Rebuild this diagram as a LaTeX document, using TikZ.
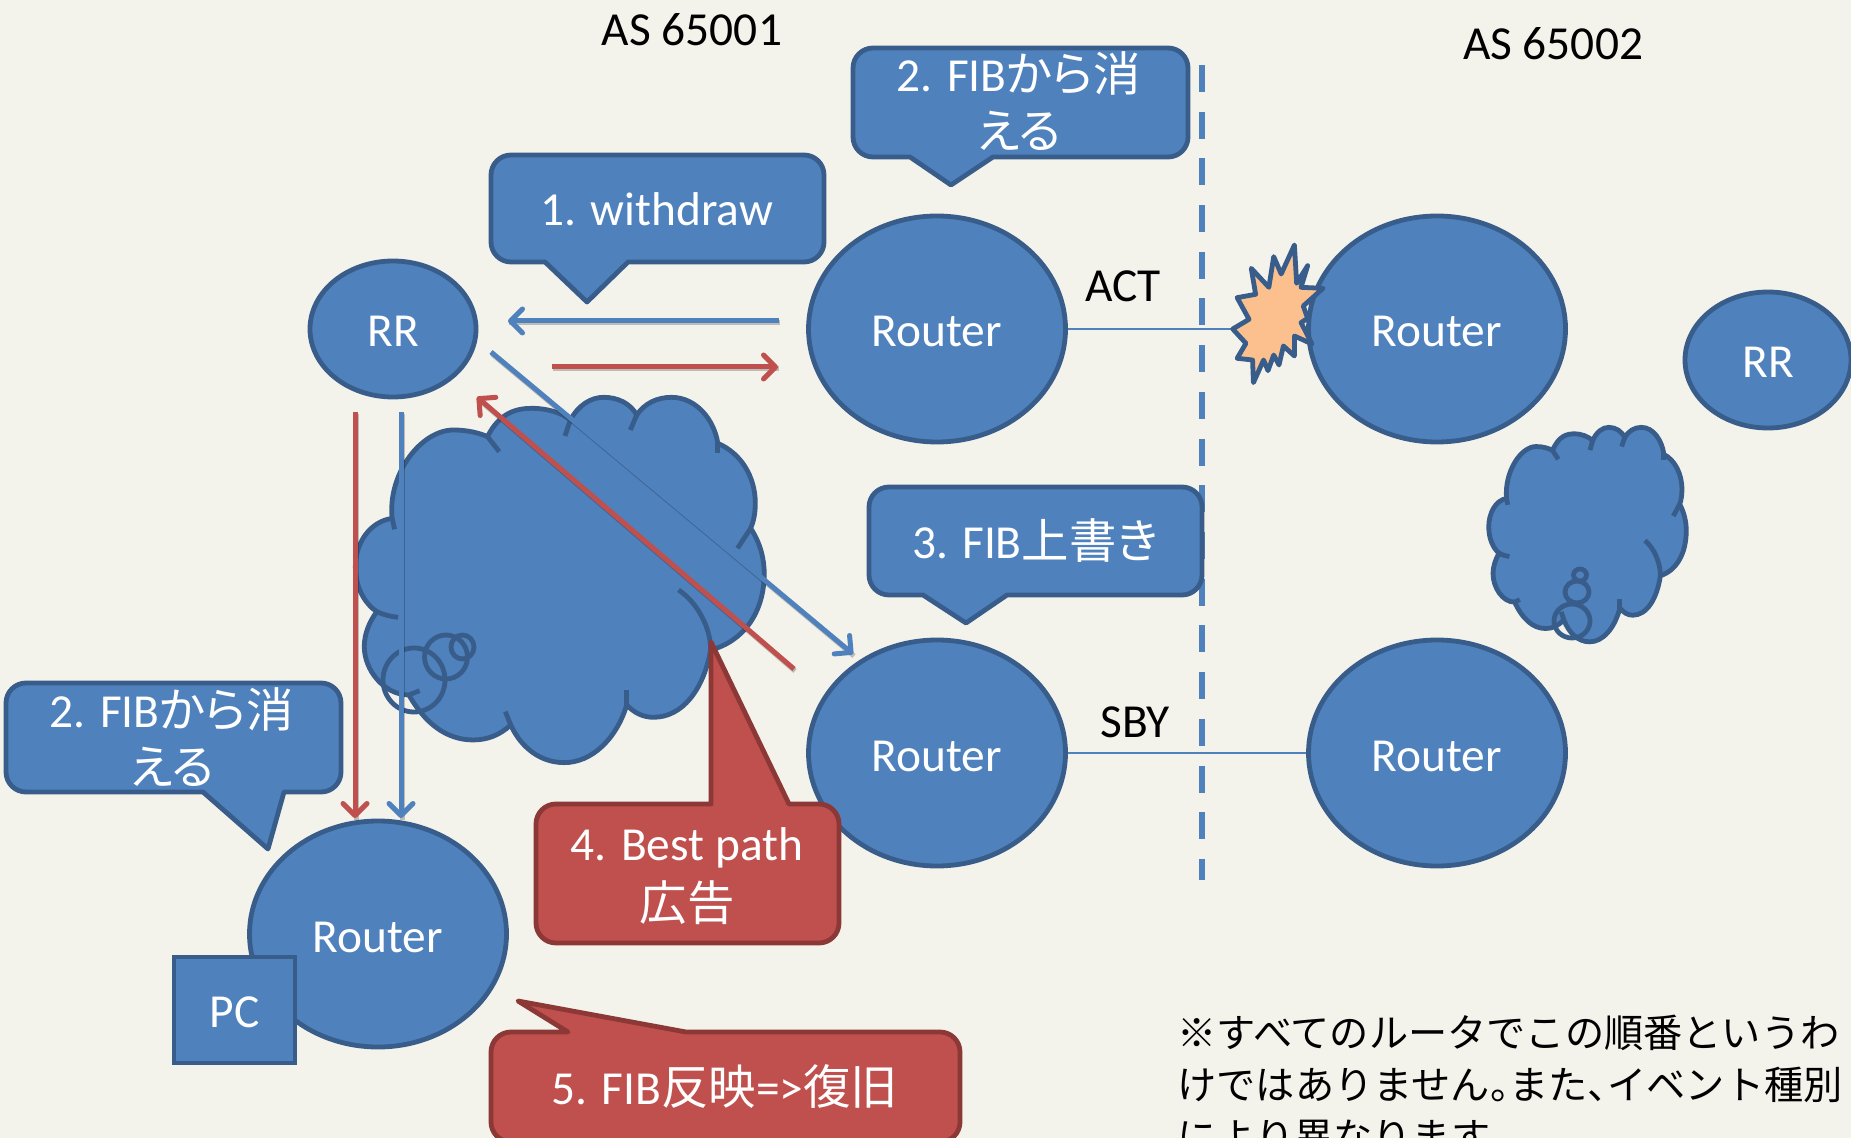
\documentclass[tikz,border=0pt]{standalone}
\usepackage{fontspec}
\setmainfont{Carlito}
\newfontfamily\cjk{Noto Sans CJK JP}
\newfontfamily\cjkp[RawFeature=+palt]{Noto Sans CJK JP}
\usetikzlibrary{arrows.meta,shapes.geometric}
\definecolor{paper}{HTML}{F3F2EB}
\definecolor{bluefill}{HTML}{4F81BD}
\definecolor{blueline}{HTML}{385D8A}
\definecolor{redfill}{HTML}{C0504D}
\definecolor{redline}{HTML}{8C3836}
\definecolor{burstfill}{HTML}{FBC08E}

\tikzset{cloudblob/.pic={
\draw[blob] (525,290) .. controls (560,215) and (610,205) .. (650,205)
  .. controls (695,205) and (735,220) .. (757,240)
  .. controls (780,195) and (815,172) .. (850,172)
  .. controls (890,172) and (925,190) .. (943,225)
  .. controls (965,190) and (1000,172) .. (1040,172)
  .. controls (1110,172) and (1160,240) .. (1170,310)
  .. controls (1235,340) and (1275,410) .. (1275,490)
  .. controls (1275,520) and (1270,545) .. (1262,565)
  .. controls (1290,610) and (1300,660) .. (1300,700)
  .. controls (1300,820) and (1240,905) .. (1150,930)
  .. controls (1130,1050) and (1070,1132) .. (990,1132)
  .. controls (960,1132) and (935,1118) .. (915,1095)
  .. controls (885,1200) and (815,1268) .. (740,1268)
  .. controls (675,1268) and (620,1225) .. (590,1155)
  .. controls (560,1185) and (525,1200) .. (485,1200)
  .. controls (410,1200) and (350,1150) .. (305,1065)
  .. controls (235,1065) and (180,990) .. (180,920)
  .. controls (180,880) and (195,845) .. (215,815)
  .. controls (180,790) and (155,740) .. (155,680)
  .. controls (155,610) and (195,545) .. (258,535)
  .. controls (245,400) and (340,270) .. (430,270)
  .. controls (470,270) and (505,280) .. (525,290) -- cycle;
\draw[blobline] (265,568) -- (258,535);
\draw[blobline] (525,290) -- (558,335);
\draw[blobline] (757,240) -- (742,288);
\draw[blobline] (943,225) -- (925,270);
\draw[blobline] (1170,310) -- (1170,340);
\draw[blobline] (1262,565) -- (1225,625);
\draw[blobline] (1150,930) .. controls (1150,860) and (1110,785) .. (1060,750);
\draw[blobline] (915,1095) -- (915,1050);
\draw[blobline] (590,1155) -- (575,1115);
\draw[blobline] (305,1065) -- (335,1052);
\draw[blobline] (215,815) .. controls (235,825) and (255,830) .. (275,832);
}}

\begin{document}
\begin{tikzpicture}[x=0.5pt,y=-0.5pt]
\tikzset{router/.style = {shape=ellipse,draw=blueline,fill=bluefill,line width=2.4pt,text=white,font=\fontsize{23.7}{28}\selectfont,inner sep=0pt,text height=18pt,text depth=0pt,minimum width=128.5pt,minimum height=113pt}}
\tikzset{reflector/.style = {router,minimum width=83pt,minimum height=68pt}}
\tikzset{pcbox/.style = {shape=rectangle,draw=blueline,fill=bluefill,line width=2.4pt,text=white,font=\fontsize{23.7}{28}\selectfont,inner sep=0pt,text height=17pt,text depth=0pt,minimum width=60.5pt,minimum height=53pt}}
\tikzset{blob/.style = {draw=blueline,fill=bluefill,line width=2.4pt}}
\tikzset{blobline/.style = {draw=blueline,line width=2.4pt}}
\tikzset{bubble/.style = {draw=blueline,line width=2.4pt}}
\tikzset{bluecall/.style = {draw=blueline,fill=bluefill,line width=2.4pt,line join=round}}
\tikzset{redcall/.style = {draw=redline,fill=redfill,line width=2.4pt,line join=round}}
\tikzset{calltext/.style = {text=white,font=\fontsize{23.7}{28.5}\selectfont,align=center,inner sep=0pt}}
\tikzset{astext/.style = {text=black,font=\fontsize{23.7}{28}\selectfont,inner sep=0pt}}
\tikzset{notetext/.style = {text=black,font=\fontsize{19.6}{26}\selectfont\cjk,align=left,inner sep=0pt,anchor=north west}}
\tikzset{arrowshade/.style = {draw=black,draw opacity=0.22,line width=2.5pt,transform canvas={xshift=0.5pt,yshift=-1pt}}}
\tikzset{bluearrow/.style = {draw=bluefill,line width=2.5pt,-{Straight Barb[length=6pt,width=12pt,round]}}}
\tikzset{redarrow/.style = {draw=redfill,line width=2.5pt,-{Straight Barb[length=6pt,width=12pt,round]}}}
\tikzset{link/.style = {draw=bluefill,line width=0.8pt}}

\useasboundingbox (0,0) rectangle (1851,1138);
\fill[paper] (0,0) rectangle (1851,1138);

\pic at (300,340) [xscale=0.3571,yscale=0.3333] {cloudblob};
\draw[bubble] (414,680) ellipse [x radius=31,y radius=32];
\draw[bubble] (446,657) ellipse [x radius=21.5,y radius=22];
\draw[bubble] (462.5,647) ellipse [x radius=11.5,y radius=12];
\pic at (1462,393.7) [xscale=0.1725,yscale=0.1957] {cloudblob};
\draw[bubble] (1572,621) ellipse [x radius=18,y radius=17];
\draw[bubble] (1577,592) ellipse [x radius=12,y radius=11];
\draw[bubble] (1580,575) ellipse [x radius=6.5,y radius=6];

\draw[draw=bluefill,line width=3.4pt,dash pattern=on 13.5pt off 9.85pt] (1202,65) -- (1202,880);

\node[router] (acta) at (937,329) {Router};
\node[router] (actb) at (1437,329) {Router};
\node[router] (sbya) at (937,753) {Router};
\node[router] (sbyb) at (1437,753) {Router};
\node[router] (edge) at (378,934) {Router};
\node[reflector] (rra) at (393,329) {RR};
\node[reflector] (rrb) at (1768,360) {RR};
\node[pcbox] (pc) at (234.5,1010) {PC};

\coordinate (burstw) at (1233,329);
\draw[link] (acta) to (burstw);
\draw[link] (sbya) to (sbyb);
\begin{scope}[shift={(1160,200)},xscale=0.4407,yscale=0.3333]
\draw[draw=blueline,fill=burstfill,line width=2.4pt,line join=round] (305,135) -- (310,250) -- (335,197) -- (320,262) -- (370,265)
  -- (325,318) -- (335,355) -- (320,368) -- (345,432) -- (305,408) -- (305,468) -- (280,438) -- (270,495)
  -- (258,465) -- (245,512) -- (235,480) -- (212,548) -- (210,480) -- (175,475) -- (195,430) -- (165,387)
  -- (202,358) -- (175,293) -- (217,283) -- (207,205) -- (247,262) -- (258,170) -- (275,222) -- cycle;
\end{scope}

\coordinate (withdrawa) at (779,321);
\coordinate (withdrawb) at (508,321);
\coordinate (updatea) at (552,367);
\coordinate (updateb) at (778,367);
\coordinate (downa) at (491,352);
\coordinate (downb) at (853,654);
\coordinate (bestb) at (794,669);
\coordinate (besta) at (477,397);
\coordinate (rrx) at (355,412);
\coordinate (rry) at (401,412);
\coordinate (edgex) at (355,818);
\coordinate (edgey) at (401,818);
\draw[arrowshade] (withdrawa) to (withdrawb);
\draw[arrowshade] (updatea) to (updateb);
\draw[arrowshade] (downa) to (downb);
\draw[arrowshade] (bestb) to (besta);
\draw[arrowshade] (rrx) to (edgex);
\draw[arrowshade] (rry) to (edgey);
\draw[bluearrow] (withdrawa) to (withdrawb);
\draw[redarrow] (updatea) to (updateb);
\draw[bluearrow] (downa) to (downb);
\draw[redarrow] (bestb) to (besta);
\draw[redarrow] (rrx) to (edgex);
\draw[bluearrow] (rry) to (edgey);

\draw[bluecall] (628,262) [rounded corners=10pt] -- (824,262) -- (824,155) -- (491,155) -- (491,262) [sharp corners] -- (545,262) -- (587,302) -- cycle;
\draw[bluecall] (993,157) [rounded corners=10pt] -- (1188,157) -- (1188,48) -- (853,48) -- (853,157) [sharp corners] -- (910,157) -- (951,185) -- cycle;
\draw[bluecall] (1007,595) [rounded corners=10pt] -- (1202,595) -- (1202,487) -- (869,487) -- (869,595) [sharp corners] -- (923,595) -- (966,623) -- cycle;
\draw[bluecall] (284,792) [rounded corners=10pt] -- (341,792) -- (341,683) -- (6,683) -- (6,792) [sharp corners] -- (203,792) -- (268,849) -- cycle;
\draw[redcall] (789,804) [rounded corners=10pt] -- (839,804) -- (839,943) -- (536,943) -- (536,804) [sharp corners] -- (711,804) -- (711,642) -- cycle;
\draw[redcall] (686,1032) [rounded corners=10pt] -- (960,1032) -- (960,1142) -- (491,1142) -- (491,1032) [sharp corners] -- (568,1032) -- (518,1001) -- cycle;

\node[calltext] (withdrawtext) at (657,209) {1. withdraw};
\node[calltext] (fibtop) at (1019,101) {2. FIB{\cjkp から消}\\{\cjkp える}};
\node[calltext] (fibover) at (1035,541) {3. FIB{\cjkp 上書き}};
\node[calltext] (fibleft) at (172,737) {2. FIB{\cjkp から消}\\{\cjkp える}};
\node[calltext] (bestpath) at (687,876) {4. Best path\\[1.5pt]{\cjk 広告}};
\node[calltext] (restore) at (725,1087) {5. FIB{\cjk 反映}=>{\cjk 復旧}};

\node[astext] (asleft) at (692,30) {AS 65001};
\node[astext] (asright) at (1553,44) {AS 65002};
\node[astext] (act) at (1123,286) {ACT};
\node[astext] (sby) at (1135,722) {SBY};
\node[notetext] (note) at (1177,1015) {※すべてのルータでこの順番というわ\\けではありません{\cjkp 。}また{\cjkp 、}イベント種別\\により異なります};
\end{tikzpicture}
\end{document}
